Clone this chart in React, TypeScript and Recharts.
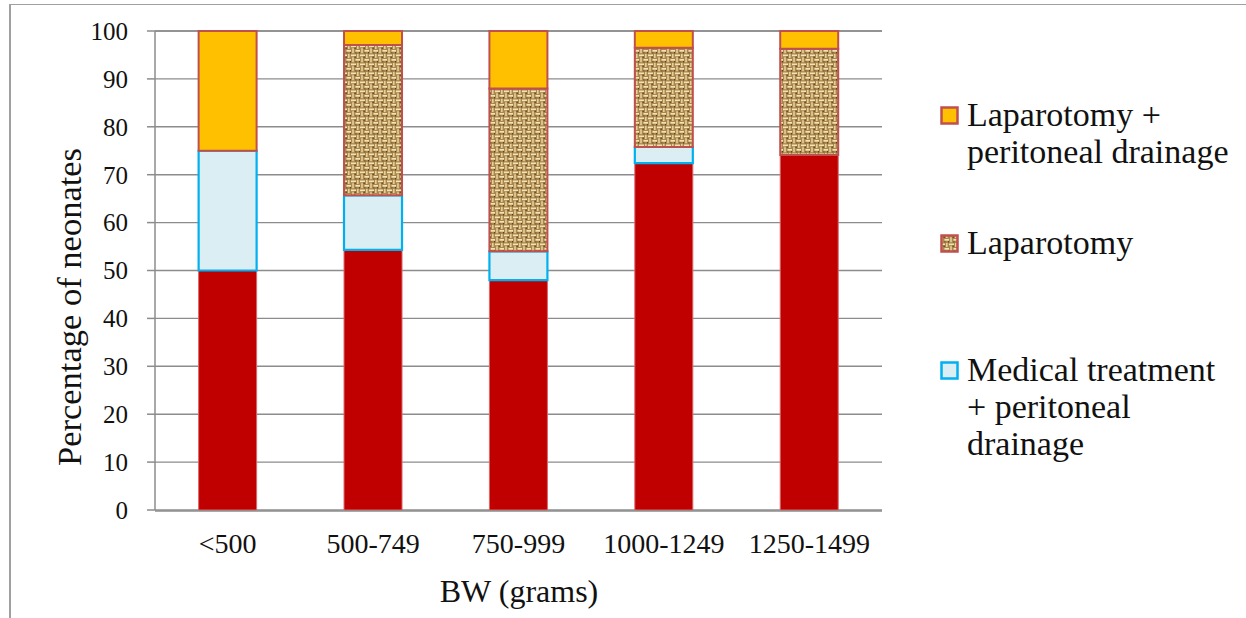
import { BarChart, Bar, XAxis, YAxis, CartesianGrid, Label } from 'recharts';

const categories = ['<500', '500-749', '750-999', '1000-1249', '1250-1499'];
const medical = [50, 54.3, 48, 72.4, 74.1];
const medicalDrainage = [25, 11.4, 6, 3.4, 0];
const laparotomy = [0, 31.4, 34, 20.7, 22.2];
const laparotomyDrainage = [25, 2.9, 12, 3.5, 3.7];
const yTicks = [0, 10, 20, 30, 40, 50, 60, 70, 80, 90, 100];
const edgeTicks = [0, 1, 2, 3, 4, 5];

const FONT = '"Liberation Serif", "Times New Roman", serif';
const GRID = '#8c8c8c';

const data = categories.map((c, i) => ({
  bw: c,
  pos: i + 0.5,
  medical: medical[i],
  medicalDrainage: medicalDrainage[i],
  laparotomy: laparotomy[i],
  laparotomyDrainage: laparotomyDrainage[i],
}));

// legend entries, top to bottom as in the original
const LEGEND = [
  { lines: ['Laparotomy +', 'peritoneal drainage'], fill: '#FFC000', stroke: '#C0504D', top: 96 },
  { lines: ['Laparotomy'], fill: 'url(#burlapLegend)', stroke: '#C0504D', top: 224 },
  { lines: ['Medical treatment', '+ peritoneal', 'drainage'], fill: '#DAEEF3', stroke: '#00B0F0', top: 351 },
];

// burlap-ish weave used for the "Laparotomy" segments
function Burlap({ id }: { id: string }) {
  return (
    <pattern id={id} width={9} height={9} patternUnits="userSpaceOnUse">
      <rect x={0} y={0} width={9} height={9} fill="#a8874f" />
      <rect x={0} y={0.5} width={5} height={1.7} fill="#f3e2b2" />
      <rect x={4.5} y={5} width={4.5} height={1.7} fill="#f3e2b2" />
      <rect x={6} y={0} width={1.6} height={4} fill="#e8cf96" />
      <rect x={1.2} y={3.2} width={1.6} height={5} fill="#e8cf96" />
      <rect x={3.5} y={2.5} width={1.3} height={1.3} fill="#4e3314" />
      <rect x={8} y={7} width={1} height={1.5} fill="#5e4020" />
      <rect x={4} y={7.3} width={1.6} height={1.2} fill="#7a5a2e" />
    </pattern>
  );
}

export default function App() {
  return (
    <div style={{ position: 'absolute', left: 0, top: 0, width: 1246, height: 618, background: '#fff', fontFamily: FONT }}>
      <div
        style={{
          position: 'absolute',
          left: 9,
          top: 4,
          width: 1240,
          height: 620,
          borderLeft: '2px solid #a0a0a0',
          borderTop: '1px solid #a0a0a0',
        }}
      />
      <BarChart
        width={1246}
        height={618}
        data={data}
        margin={{ top: 31, right: 364, bottom: 0, left: 0 }}
        barCategoryGap="30%"
        style={{ position: 'absolute', left: 0, top: 0 }}
      >
        <defs>
          <Burlap id="burlap" />
        </defs>
        <CartesianGrid vertical={false} stroke={GRID} strokeWidth={1.4} />
        <XAxis
          xAxisId="edges"
          dataKey="pos"
          type="number"
          domain={[0, 5]}
          allowDataOverflow
          ticks={edgeTicks}
          tick={false}
          height={107}
          tickSize={8}
          stroke={GRID}
          strokeWidth={1.5}
        />
        <XAxis
          dataKey="bw"
          height={1}
          axisLine={false}
          tickLine={false}
          tickSize={8}
          tickMargin={15}
          tick={{ fontSize: 28, fill: '#111', fontFamily: FONT }}
          interval={0}
        >
          <Label
            content={() => (
              <text x={519} y={602} textAnchor="middle" fontSize={32} fill="#111" fontFamily={FONT}>
                BW (grams)
              </text>
            )}
          />
        </XAxis>
        <YAxis
          width={155}
          domain={[0, 100]}
          ticks={yTicks}
          interval={0}
          tickSize={8}
          tickMargin={19}
          stroke={GRID}
          strokeWidth={1.5}
          tick={{ fontSize: 25, fill: '#111', fontFamily: FONT }}
        >
          <Label
            content={() => (
              <text
                x={81}
                y={307}
                transform="rotate(-90, 81, 307)"
                textAnchor="middle"
                fontSize={34.5}
                fill="#111"
                fontFamily={FONT}
              >
                Percentage of neonates
              </text>
            )}
          />
        </YAxis>
        <Bar dataKey="medical" name="Medical treatment" stackId="a" fill="#C00000" stroke="#d9686a" strokeWidth={1} isAnimationActive={false} />
        <Bar dataKey="medicalDrainage" name="Medical treatment + peritoneal drainage" stackId="a" fill="#DAEEF3" stroke="#00B0F0" strokeWidth={2.2} isAnimationActive={false} />
        <Bar dataKey="laparotomy" name="Laparotomy" stackId="a" fill="url(#burlap)" stroke="#C0504D" strokeWidth={2} isAnimationActive={false} />
        <Bar dataKey="laparotomyDrainage" name="Laparotomy + peritoneal drainage" stackId="a" fill="#FFC000" stroke="#C0504D" strokeWidth={2} isAnimationActive={false} />
      </BarChart>

      {LEGEND.map((item) => (
        <div key={item.lines[0]} style={{ position: 'absolute', left: 940, top: item.top }}>
          <svg width={20} height={20} style={{ position: 'absolute', left: 0, top: 10 }}>
            <defs>
              <Burlap id="burlapLegend" />
            </defs>
            <rect x={1.5} y={1.5} width={16} height={16} fill={item.fill} stroke={item.stroke} strokeWidth={2.5} />
          </svg>
          <div style={{ position: 'absolute', left: 27, top: 0, fontSize: 34, lineHeight: '37px', color: '#111', whiteSpace: 'nowrap' }}>
            {item.lines.map((l) => (
              <div key={l}>{l}</div>
            ))}
          </div>
        </div>
      ))}
    </div>
  );
}
